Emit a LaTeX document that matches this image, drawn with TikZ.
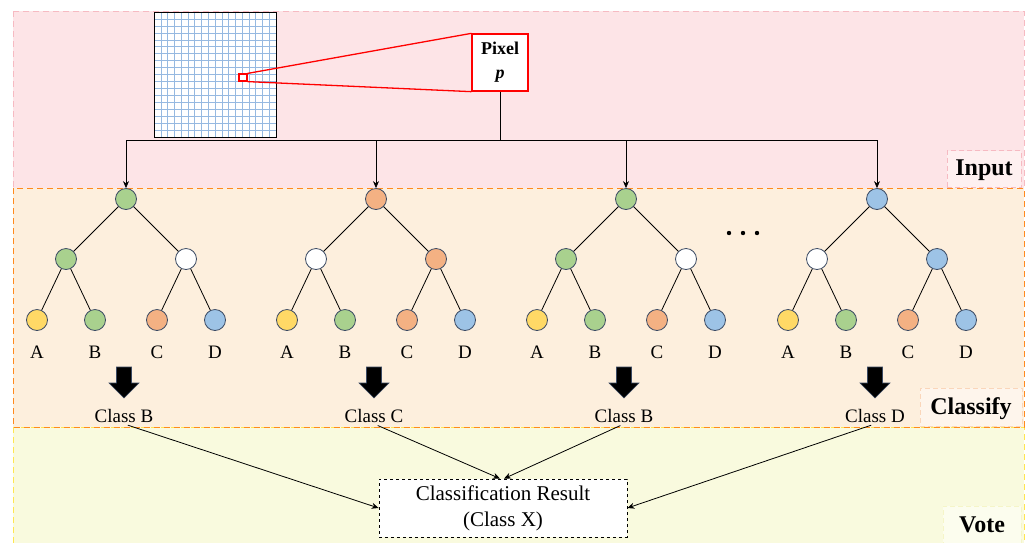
\documentclass[tikz,border=0pt]{standalone}
\usepackage{fontspec}
\setmainfont{Liberation Serif}
\usetikzlibrary{arrows.meta,calc}
\definecolor{inputfill}{RGB}{253,228,231}
\definecolor{inputline}{RGB}{246,186,194}
\definecolor{inputlab}{RGB}{254,240,240}
\definecolor{clsfill}{RGB}{253,239,221}
\definecolor{clsline}{RGB}{255,138,30}
\definecolor{clslab}{RGB}{254,245,236}
\definecolor{clslabline}{RGB}{250,214,186}
\definecolor{votefill}{RGB}{249,250,222}
\definecolor{voteline}{RGB}{255,230,80}
\definecolor{votelab}{RGB}{252,253,238}
\definecolor{votelabline}{RGB}{245,245,200}
\definecolor{cgreen}{RGB}{169,209,142}
\definecolor{corange}{RGB}{244,177,131}
\definecolor{cblue}{RGB}{157,195,230}
\definecolor{cyellow}{RGB}{255,217,102}
\definecolor{nodeline}{RGB}{59,74,99}
\definecolor{gridblue}{RGB}{150,185,225}
\definecolor{pixred}{RGB}{255,0,0}
\tikzset{
  tn/.style={circle,draw=nodeline,line width=0.8pt,minimum size=21pt,inner sep=0pt},
  edge/.style={line width=0.8pt,black},
  leaflab/.style={font=\fontsize{19}{22}\selectfont,inner sep=0pt},
  clslabel/.style={font=\fontsize{19}{22}\selectfont,inner sep=1pt},
  conn/.style={line width=0.8pt,black,-{Stealth[length=7pt,width=6pt]}},
  seclab/.style={font=\bfseries\fontsize{24}{28}\selectfont,dashed,line width=0.8pt,inner sep=0pt,dash pattern=on 5pt off 3pt},
  blockarr/.pic={\filldraw[fill=black,draw=nodeline,line width=0.6pt]
     (-7.5,0) -- (7.5,0) -- (7.5,16) -- (15,16) -- (0,31) -- (-15,16) -- (-7.5,16) -- cycle;}
}
\newcommand\drawtree[6]{%
  \node[tn,fill=#3] (#1r) at (#2,199) {};
  \node[tn,fill=#4] (#1a) at ({#2-60},259) {};
  \node[tn,fill=#5] (#1b) at ({#2+60},259) {};
  \node[tn,fill=cyellow] (#1la) at ({#2-89},320) {};
  \node[tn,fill=cgreen] (#1lb) at ({#2-31},320) {};
  \node[tn,fill=corange] (#1lc) at ({#2+31},320) {};
  \node[tn,fill=cblue] (#1ld) at ({#2+89},320) {};
  \draw[edge] (#1r) -- (#1a);
  \draw[edge] (#1r) -- (#1b);
  \draw[edge] (#1a) -- (#1la);
  \draw[edge] (#1a) -- (#1lb);
  \draw[edge] (#1b) -- (#1lc);
  \draw[edge] (#1b) -- (#1ld);
  \node[leaflab] (#1ta) at ({#2-89},352) {A};
  \node[leaflab] (#1tb) at ({#2-31},352) {B};
  \node[leaflab] (#1tc) at ({#2+31},352) {C};
  \node[leaflab] (#1td) at ({#2+89},352) {D};
  \pic at ({#2-2},367) {blockarr};
  \node[clslabel] (#1c) at ({#2-2},416) {Class #6};
}
\begin{document}
\begin{tikzpicture}[x=1pt,y=-1pt]
\useasboundingbox (0,0) rectangle (1029,542);
% regions
\filldraw[fill=inputfill,draw=inputline,line width=0.9pt,dash pattern=on 6pt off 4pt] (13,11) rectangle (1024,188);
\filldraw[fill=votefill,draw=voteline,line width=0.9pt,dash pattern=on 6pt off 4pt] (13,427) rectangle (1024,548);
\filldraw[fill=clsfill,draw=clsline,line width=0.9pt,dash pattern=on 6pt off 4pt] (13,188) rectangle (1024,427);
% section labels
\node[seclab,fill=inputlab,draw=inputline,minimum width=74pt,minimum height=37pt,text depth=2pt] (linput) at (984,169) {Input};
\node[seclab,fill=clslab,draw=clslabline,minimum width=102pt,minimum height=38pt,text depth=2pt] (lclass) at (971,407) {Classify};
\node[seclab,fill=votelab,draw=votelabline,minimum width=78pt,minimum height=40pt,text depth=2pt] (lvote) at (982,526) {Vote};
% image grid
\begin{scope}[shift={(154,12)}]
  \fill[white] (0,0) rectangle (122,125);
  \foreach \i in {1,...,17} {
    \draw[gridblue,line width=0.5pt] ({\i*122/18},0) -- ({\i*122/18},125);
    \draw[gridblue,line width=0.5pt] (0,{\i*125/18}) -- (122,{\i*125/18});
  }
  \draw[black,line width=0.8pt] (0,0) rectangle (122,125);
\end{scope}
% zoom
\node[draw=pixred,line width=1.2pt,fill=white,minimum width=8pt,minimum height=7pt,inner sep=0pt] (px) at (243,77.5) {};
\node[draw=pixred,line width=1.3pt,fill=white,minimum width=56pt,minimum height=57pt,inner sep=0pt,align=center,font=\bfseries\fontsize{18}{24}\selectfont] (pix) at (500,62.5) {Pixel\\\textit{p}};
\draw[pixred,line width=1.3pt] (px.north east) -- (pix.north west);
\draw[pixred,line width=1.3pt] (px.south east) -- (pix.south west);
% trees
\drawtree{t1}{126}{cgreen}{cgreen}{white}{B}
\drawtree{t2}{376}{corange}{white}{corange}{C}
\drawtree{t3}{626}{cgreen}{cgreen}{white}{B}
\drawtree{t4}{877}{cblue}{white}{cblue}{D}
% dots
\fill (729,233) circle (2.2pt);
\fill (743,233) circle (2.2pt);
\fill (757,233) circle (2.2pt);
% input connectors
\coordinate (hub) at (500,140);
\draw[line width=0.9pt] (pix.south) -- (hub);
\draw[conn] (hub) -| (t1r.north);
\draw[conn] (hub) -| (t2r.north);
\draw[conn] (hub) -| (t3r.north);
\draw[conn] (hub) -| (t4r.north);
% result
\node[draw=black,dashed,line width=0.8pt,fill=white,minimum width=248pt,minimum height=58pt,align=center,font=\fontsize{21}{26}\selectfont] (res) at (503,508) {Classification Result\\(Class X)};
\draw[conn,shorten <=4pt] (t1c.south) -- (res.west);
\draw[conn,shorten <=4pt] (t2c.south) -- ($(res.north)+(-3,0)$);
\draw[conn,shorten <=4pt] (t3c.south) -- ($(res.north)+(1,0)$);
\draw[conn,shorten <=4pt] (t4c.south) -- (res.east);
\end{tikzpicture}
\end{document}
